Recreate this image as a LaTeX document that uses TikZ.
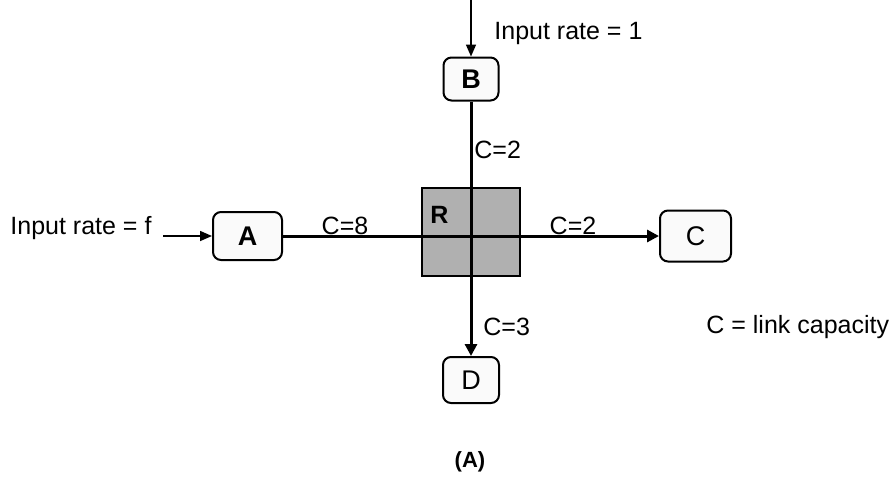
\documentclass[tikz,border=0pt]{standalone}
\usepackage{fontspec}
\setmainfont{Liberation Sans}
\usetikzlibrary{arrows.meta}
\begin{document}
\begin{tikzpicture}[x=0.5pt,y=-0.5pt,
  every node/.style={font=\fontsize{12.5}{14}\selectfont},
  nodebox/.style={draw=black,line width=1pt,rounded corners=4pt,fill=gray!4,
    inner sep=0pt,font=\fontsize{13.5}{15}\selectfont},
  router/.style={draw=black,line width=1pt,fill=gray!62,inner sep=0pt,
    minimum width=49pt,minimum height=44pt},
  link/.style={line width=1.5pt},
  flow/.style={line width=1.5pt,-{Triangle[length=6pt,width=6pt]}},
  feed/.style={line width=0.8pt,-{Triangle[length=6pt,width=5pt]}},
  lbl/.style={anchor=west,inner sep=0pt}]
\useasboundingbox (0,0) rectangle (895,478);
% router square and the four end nodes
\node[router] (R) at (471,232) {};
\coordinate (X) at (471,236);
\node[anchor=north west,inner sep=0pt,font=\bfseries\fontsize{12.5}{14}\selectfont] (Rl) at (430,206) {R};
\node[nodebox,minimum width=27.5pt,minimum height=21.5pt] (B) at (471,79) {\textbf{B}};
\node[nodebox,minimum width=34.5pt,minimum height=24pt] (A) at (247.5,236) {\textbf{A}};
\node[nodebox,minimum width=35.5pt,minimum height=25.5pt] (C) at (695.5,236) {C};
\node[nodebox,minimum width=28pt,minimum height=23pt] (D) at (471,380) {D};
% links through the router
\draw[link] (A) -- (X);
\draw[flow] (X) -- (C);
\draw[link] (B) -- (X);
\draw[flow] (X) -- (D);
% external inputs
\coordinate (topin) at (471,0);
\coordinate (leftin) at (163,236);
\draw[feed] (topin) -- (B);
\draw[feed] (leftin) -- (A);
% labels
\node[lbl] (in1) at (494,33) {Input rate = 1};
\node[lbl] (inf) at (10,228) {Input rate = f};
\node (c8) at (345,226) {C=8};
\node (c2h) at (573,226) {C=2};
\node[lbl] (c2v) at (474,150) {C=2};
\node[lbl] (c3) at (483,327) {C=3};
\node[lbl] (cap) at (706,327) {C = link capacity};
\node[font=\bfseries\fontsize{11}{13}\selectfont] (cap2) at (470,462) {(A)};
\end{tikzpicture}
\end{document}
